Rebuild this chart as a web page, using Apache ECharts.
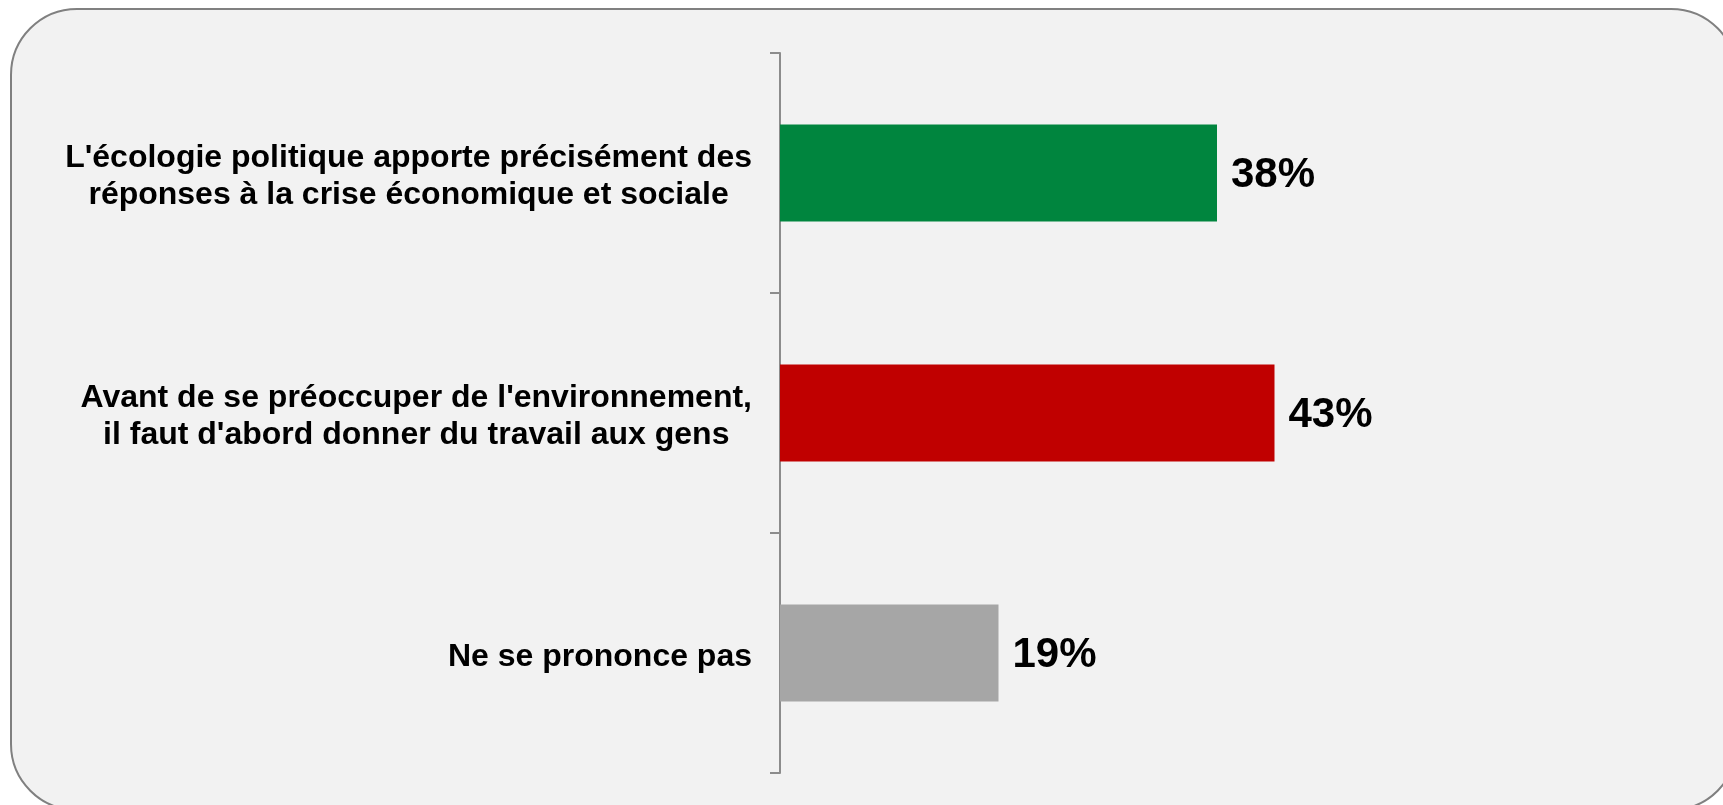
<!DOCTYPE html>
<html>
<head>
<meta charset="utf-8">
<title>Ecologie politique</title>
<script src="https://cdn.jsdelivr.net/npm/echarts@6/dist/echarts.min.js"></script>
<style>
  html, body { margin: 0; padding: 0; background: #ffffff; }
  #chart { width: 1723px; height: 805px; }
</style>
</head>
<body>
<div id="chart"></div>
<script>
// libellés des réponses (de haut en bas)
var categories = [
    "L'écologie politique apporte précisément des\nréponses à la crise économique et sociale",
    "Avant de se préoccuper de l'environnement,\nil faut d'abord donner du travail aux gens",
    "Ne se prononce pas"
];
// pourcentages
var values = [38, 43, 19];
var barColors = ['#00853e', '#c00000', '#a6a6a6'];

var myChart = echarts.init(document.getElementById('chart'));

var seriesData = [];
var labelData = [];
values.forEach(function(v, i){
    seriesData.push({ value: v, itemStyle: { color: barColors[i] } });
    labelData.push([0, categories[i]]);
});

//libellé centré ligne par ligne, bloc aligné à droite
function wrapLabel(txt){
    return txt.split('\n').map(function(l){ return '{c|' + l + '}'; }).join('\n');
}

var option = {
    backgroundColor: '#ffffff',
    textStyle: { fontFamily: 'Liberation Sans, Arial, sans-serif' },
    graphic: [{
        type: 'rect',
        z: -10,
        silent: true,
        shape: { x: 11, y: 9, width: 1726, height: 801, r: 66 },
        style: { fill: '#f2f2f2', stroke: '#808080', lineWidth: 2 }
    }],
    grid: { left: 780, top: 53, bottom: 32, width: 690, containLabel: false },
    xAxis: {
        type: 'value',
        min: 0,
        max: 60,
        show: false
    },
    yAxis: {
        type: 'category',
        inverse: true,
        data: categories,
        axisLine: { show: true, lineStyle: { color: '#8c8c8c', width: 2 } },
        axisTick: { show: true, length: 10, lineStyle: { color: '#8c8c8c', width: 2 } },
        axisLabel: { show: false }
    },
    series: [{
        type: 'bar',
        data: seriesData,
        barWidth: 97,
        label: {
            show: true,
            position: 'right',
            distance: 14,
            offset: [0, 2],
            formatter: '{c}%',
            color: '#000000',
            fontFamily: 'Liberation Sans',
            fontSize: 42,
            fontWeight: 'bold'
        }
    }, {
        type: 'scatter',
        data: labelData,
        symbolSize: 0,
        silent: true,
        itemStyle: { opacity: 1 },
        label: {
            show: true,
            position: 'left',
            distance: 28,
            offset: [0, 4],
            align: 'right',
            color: '#000000',
            opacity: 1,
            fontFamily: 'Liberation Sans',
            fontSize: 32,
            fontWeight: 'bold',
            lineHeight: 37,
            formatter: function(p){ return wrapLabel(p.value[1]); },
            rich: {
                c: {
                    align: 'center',
                    color: '#000000',
                    fontFamily: 'Liberation Sans',
                    fontSize: 32,
                    fontWeight: 'bold',
                    lineHeight: 37
                }
            }
        }
    }]
};
myChart.setOption(option);
</script>
</body>
</html>
